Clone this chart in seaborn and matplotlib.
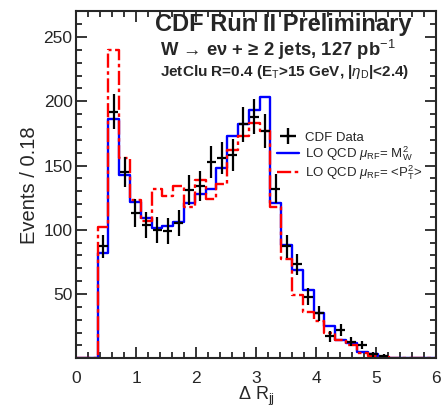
import numpy as np
import pandas as pd
import matplotlib
matplotlib.use("Agg")
import matplotlib.pyplot as plt
from matplotlib.lines import Line2D
from matplotlib.ticker import MultipleLocator
import seaborn as sns

# bins of width 0.18 starting at 0
bin_width = 0.18
n_bins = 34

# LO QCD, mu = M_W^2 (blue, solid)
lo_mw = [0, 0, 82, 186, 143, 122, 109, 101, 103, 106, 121, 128, 132, 148, 173, 182, 193,
         203, 121, 88, 69, 53, 35, 25, 14, 12, 5, 3, 1, 0, 0, 0, 0, 0]
# LO QCD, mu = <pT^2> (red, dash-dot)
lo_pt = [0, 0, 102, 240, 156, 123, 107, 132, 126, 134, 118, 139, 124, 136, 162, 173, 183,
         177, 118, 77, 49, 36, 29, 20, 14, 10, 4, 2, 1, 0, 0, 0, 0, 0]
# CDF data (nan = no point)
cdf_data = [np.nan, np.nan, 87, 192, 145, 113, 104, 100, 99, 105, 131, 134, 153, 156, 158, 182, 188,
            177, 132, 87, 73, 48, 35, 17, 22, 13, 10, 3, 2, np.nan, np.nan, np.nan, np.nan, np.nan]
cdf_err = [0, 0, 9.3, 13.9, 12.0, 10.6, 10.2, 10.0, 9.9, 10.2, 11.4, 11.6, 12.4, 12.5, 12.6, 13.5, 13.7,
           13.3, 11.5, 9.3, 8.5, 6.9, 5.9, 4.1, 4.7, 3.6, 3.2, 1.7, 1.4, 0, 0, 0, 0, 0]

edges = [round(i * bin_width, 2) for i in range(n_bins + 1)]
centers = [round((i + 0.5) * bin_width, 3) for i in range(n_bins)]

df = pd.DataFrame({"dR": centers, "mw": lo_mw, "pt": lo_pt, "data": cdf_data, "err": cdf_err})

sns.set_style("ticks")
plt.rcParams["font.family"] = ["Liberation Sans", "DejaVu Sans"]
plt.rcParams["mathtext.fontset"] = "custom"
plt.rcParams["mathtext.rm"] = "Liberation Sans"
plt.rcParams["mathtext.it"] = "Liberation Sans:italic"
plt.rcParams["mathtext.bf"] = "Liberation Sans:bold"

fig = plt.figure(figsize=(4.45, 4.08), dpi=100)
ax = fig.add_axes([0.171, 0.122, 0.809, 0.85])

dashdot = (0, (6, 1.5, 1.5, 1.5))
sns.histplot(data=df, x="dR", weights="mw", bins=edges, element="step", fill=False,
             color="#0000ff", linewidth=1.7, ax=ax)
sns.histplot(data=df, x="dR", weights="pt", bins=edges, element="step", fill=False,
             color="#ff0000", linewidth=1.7, linestyle=dashdot, ax=ax)

pts = df.dropna(subset=["data"])
ax.errorbar(pts["dR"], pts["data"], yerr=pts["err"],
            xerr=0.075, fmt="none", ecolor="black", elinewidth=1.6, capsize=0, zorder=5)

ax.set_xlim(0, 6)
ax.set_ylim(0, 270)
ax.xaxis.set_major_locator(MultipleLocator(1))
ax.xaxis.set_minor_locator(MultipleLocator(0.2))
ax.yaxis.set_minor_locator(MultipleLocator(10))
ax.set_yticks([50, 100, 150, 200, 250])
ax.tick_params(which="both", direction="in", top=True, right=True, width=1.3, labelsize=12.5)
ax.tick_params(which="major", length=8)
ax.tick_params(which="minor", length=4)
ax.tick_params(axis="x", which="major", pad=9)
ax.tick_params(axis="y", which="major", pad=2.5)
for s in ax.spines.values():
    s.set_linewidth(1.5)

ax.set_xlabel(r"$\Delta\ \mathrm{R}_{\mathrm{jj}}$", fontsize=13, labelpad=-1)
ax.set_ylabel("Events / 0.18", fontsize=14.5, labelpad=3)

ax.text(0.219, 0.963, "CDF Run II Preliminary", transform=ax.transAxes,
        fontsize=17, fontweight="bold", ha="left", va="center")
ax.text(0.233, 0.888, "W → eν + ≥ 2 jets, 127 pb$^{-1}$", transform=ax.transAxes,
        fontsize=13.3, fontweight="bold", ha="left", va="center")
ax.text(0.233, 0.824, r"JetClu R=0.4 (E$_{\mathrm{T}}$>15 GeV, |$\eta_{\mathrm{D}}$|<2.4)",
        transform=ax.transAxes, fontsize=11, fontweight="bold", ha="left", va="center")

handles = [
    Line2D([], [], color="black", marker="+", markersize=12, markeredgewidth=1.7, linestyle="none"),
    Line2D([], [], color="#0000ff", linewidth=1.7),
    Line2D([], [], color="#ff0000", linewidth=1.7, linestyle=dashdot),
]
labels = ["CDF Data", r"LO QCD $\mu_{\mathrm{RF}}$= M$^2_{\mathrm{W}}$",
          r"LO QCD $\mu_{\mathrm{RF}}$= <P$^2_{\mathrm{T}}$>"]
ax.legend(handles, labels, loc="upper left", bbox_to_anchor=(0.55, 0.662), borderaxespad=0,
          frameon=False, fontsize=9.5, handlelength=1.65, handletextpad=0.5,
          labelspacing=0.05, borderpad=0.2)

fig.savefig("out.png", dpi=100)
